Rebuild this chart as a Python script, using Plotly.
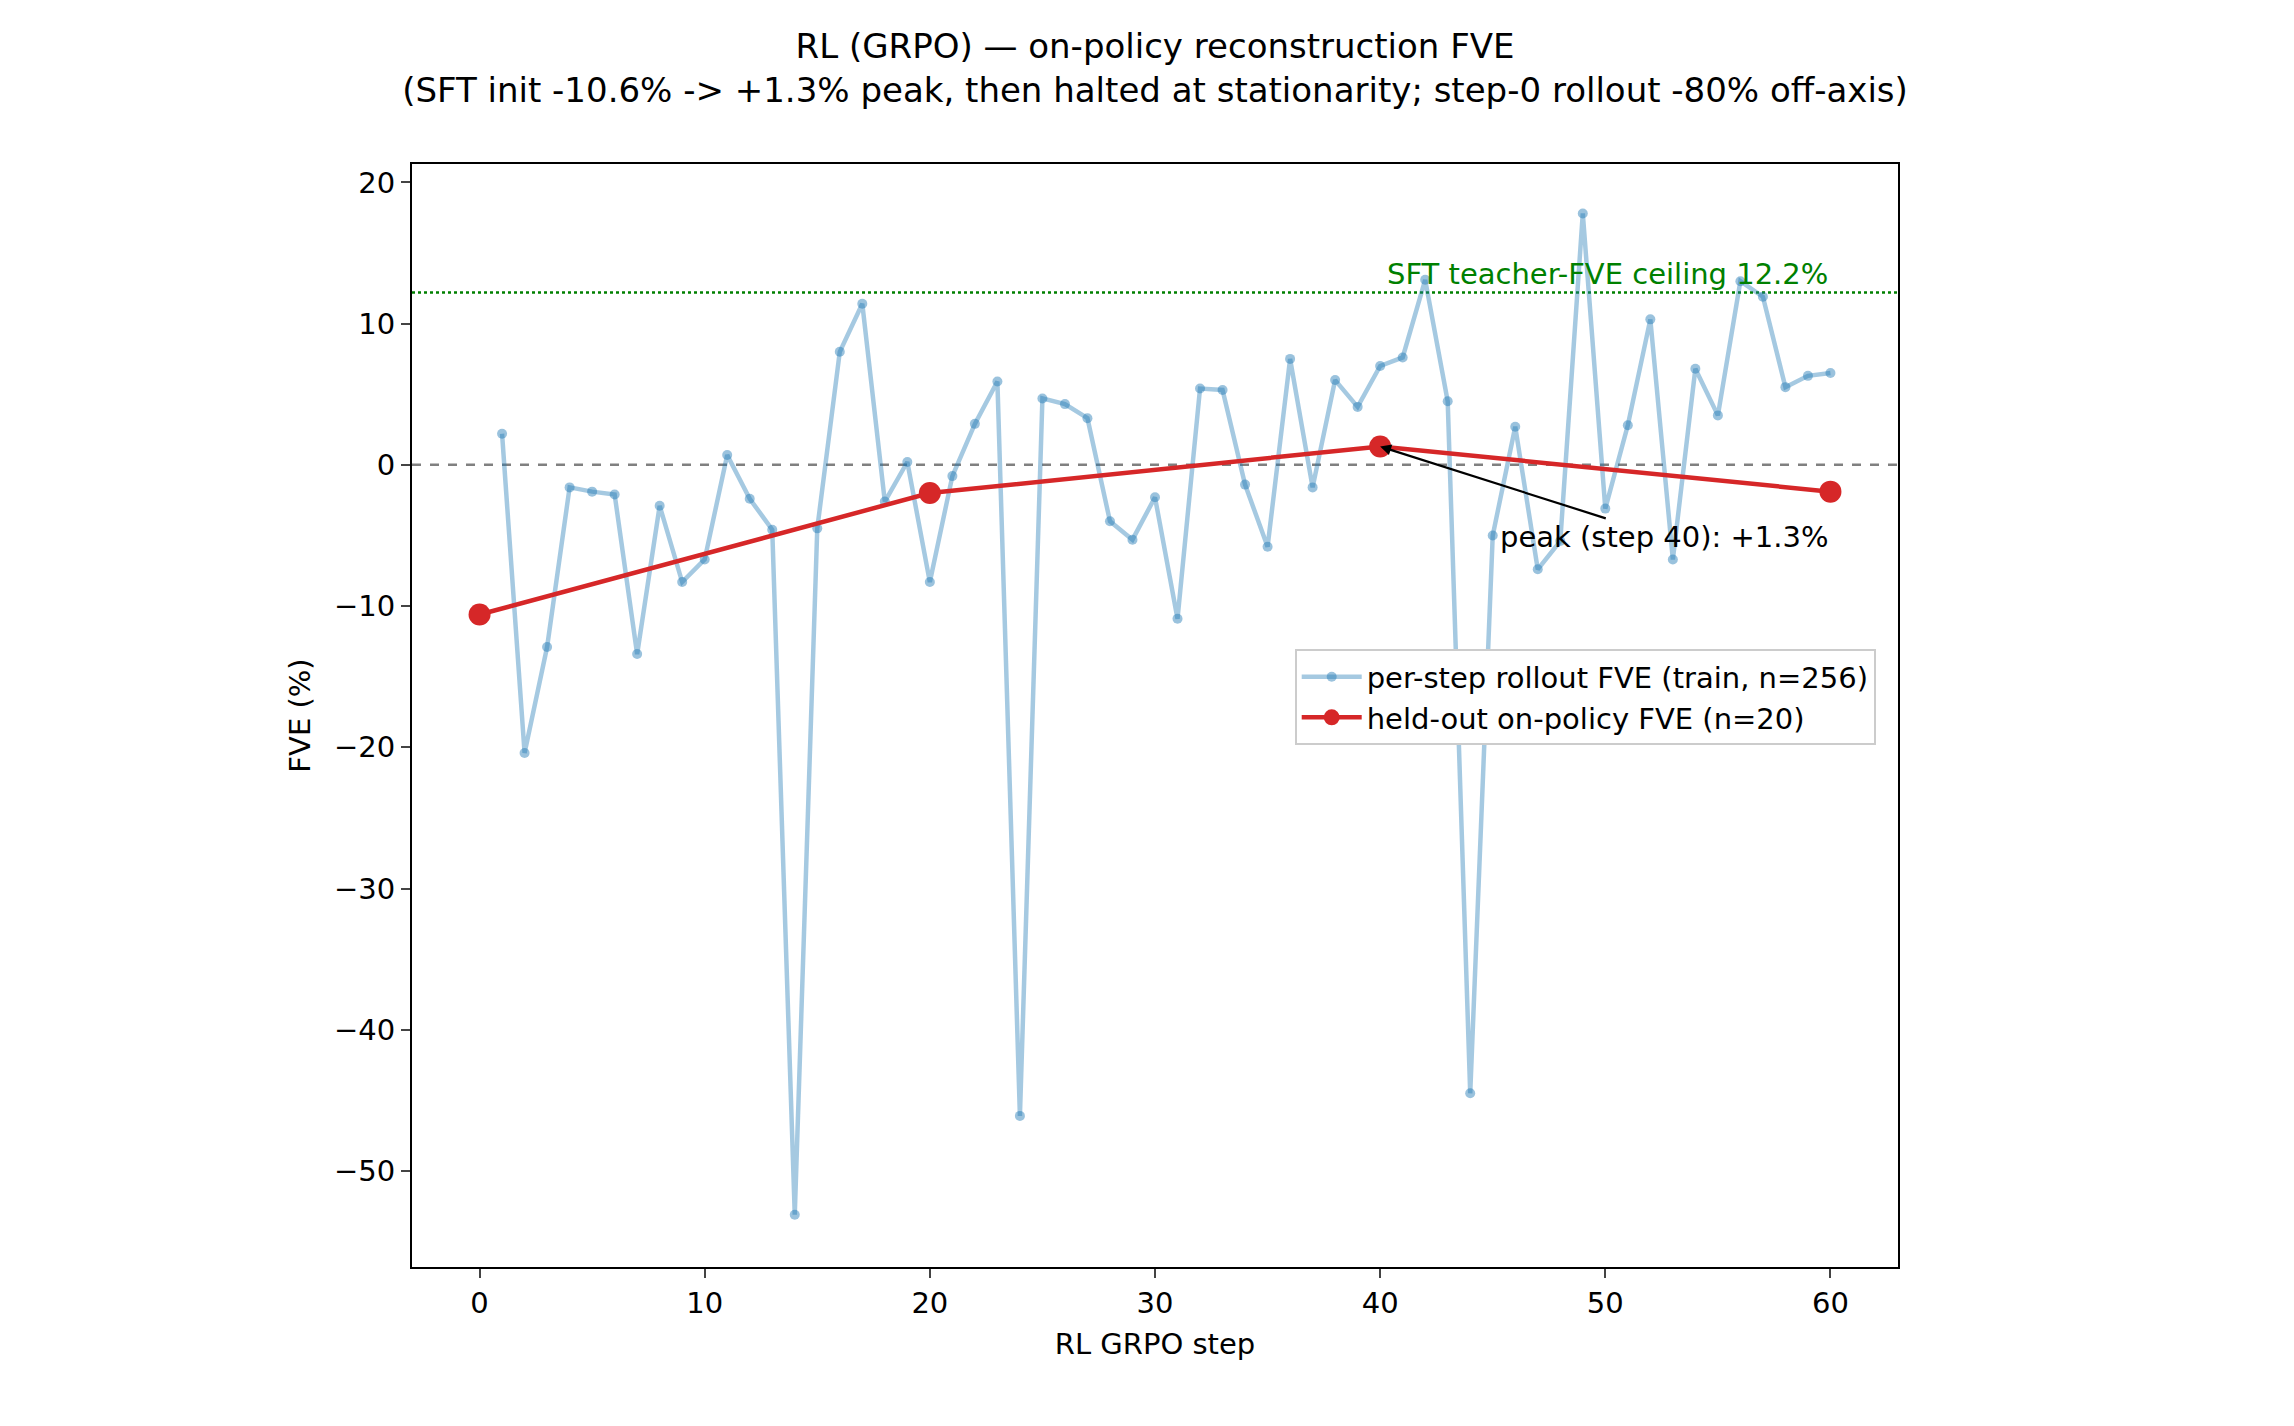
import plotly.graph_objects as go

steps = list(range(1, 61))
rollout_fve = [2.2, -20.4, -12.9, -1.6, -1.9, -2.1, -13.4, -2.9, -8.3, -6.7,
               0.7, -2.4, -4.6, -53.1, -4.5, 8.0, 11.4, -2.6, 0.2, -8.3,
               -0.8, 2.9, 5.9, -46.1, 4.7, 4.3, 3.3, -4.0, -5.3, -2.3,
               -10.9, 5.4, 5.3, -1.4, -5.8, 7.5, -1.6, 6.0, 4.1, 7.0,
               7.6, 13.1, 4.5, -44.5, -5.0, 2.7, -7.4, -5.4, 17.8, -3.1,
               2.8, 10.3, -6.7, 6.8, 3.5, 13.0, 11.9, 5.5, 6.3, 6.5]
heldout_steps = [0, 20, 40, 60]
heldout_fve = [-10.6, -2.0, 1.3, -1.9]
ceiling = 12.2

F = "DejaVu Sans"
FS = 29
fig = go.Figure()
fig.add_trace(go.Scatter(x=steps, y=rollout_fve, mode="lines+markers",
    name="per-step rollout FVE (train, n=256)",
    line=dict(color="rgba(31,119,180,0.4)", width=4.5),
    marker=dict(color="rgba(31,119,180,0.45)", size=10)))
fig.add_trace(go.Scatter(x=heldout_steps, y=heldout_fve, mode="lines+markers",
    name="held-out on-policy FVE (n=20)",
    line=dict(color="#d62728", width=4.5),
    marker=dict(color="#d62728", size=22)))
fig.add_hline(y=0, line=dict(color="gray", width=2.5, dash="dash"), layer="below")
fig.add_hline(y=ceiling, line=dict(color="green", width=2.5, dash="dot"), layer="below")
fig.add_annotation(x=60, y=ceiling, xanchor="right", yanchor="bottom", showarrow=False,
    text=f"SFT teacher-FVE ceiling {ceiling}%", font=dict(color="green", size=FS, family=F))
fig.add_annotation(x=40, y=1.3, ax=52.6, ay=-5.1, axref="x", ayref="y",
    text="peak (step 40): +1.3%", showarrow=True, arrowhead=2, arrowsize=1, arrowwidth=2.2,
    arrowcolor="black", font=dict(size=FS, color="black", family=F))
ax = dict(showline=True, linecolor="black", linewidth=2, mirror=True, ticks="outside",
          ticklen=9, tickwidth=2, showgrid=False, zeroline=False,
          tickfont=dict(size=FS, color="black", family=F))
fig.update_xaxes(**ax, range=[-3, 63], tickvals=[0, 10, 20, 30, 40, 50, 60],
                 title=dict(text="RL GRPO step", font=dict(size=FS, family=F, color="black")))
fig.update_yaxes(**ax, range=[-56.8, 21.3], tickvals=[-50, -40, -30, -20, -10, 0, 10, 20],
                 ticktext=["−50", "−40", "−30", "−20", "−10", "0", "10", "20"],
                 title=dict(text="FVE (%)", font=dict(size=FS, family=F, color="black")))
fig.update_layout(width=2294, height=1426, plot_bgcolor="white", paper_bgcolor="white",
    margin=dict(l=404, r=404, t=156, b=167),
    title=dict(text="RL (GRPO) — on-policy reconstruction FVE<br>(SFT init -10.6% -> +1.3% peak, then halted at stationarity; step-0 rollout -80% off-axis)",
               x=0.5, xanchor="center", y=0.965, yanchor="top",
               font=dict(size=34, family=F, color="black")),
    legend=dict(x=0.985, y=0.56, xanchor="right", yanchor="top", bgcolor="white",
                bordercolor="#cccccc", borderwidth=2, itemwidth=60,
                font=dict(size=FS, family=F, color="black")),
    showlegend=True)
fig.write_html("out.html")
